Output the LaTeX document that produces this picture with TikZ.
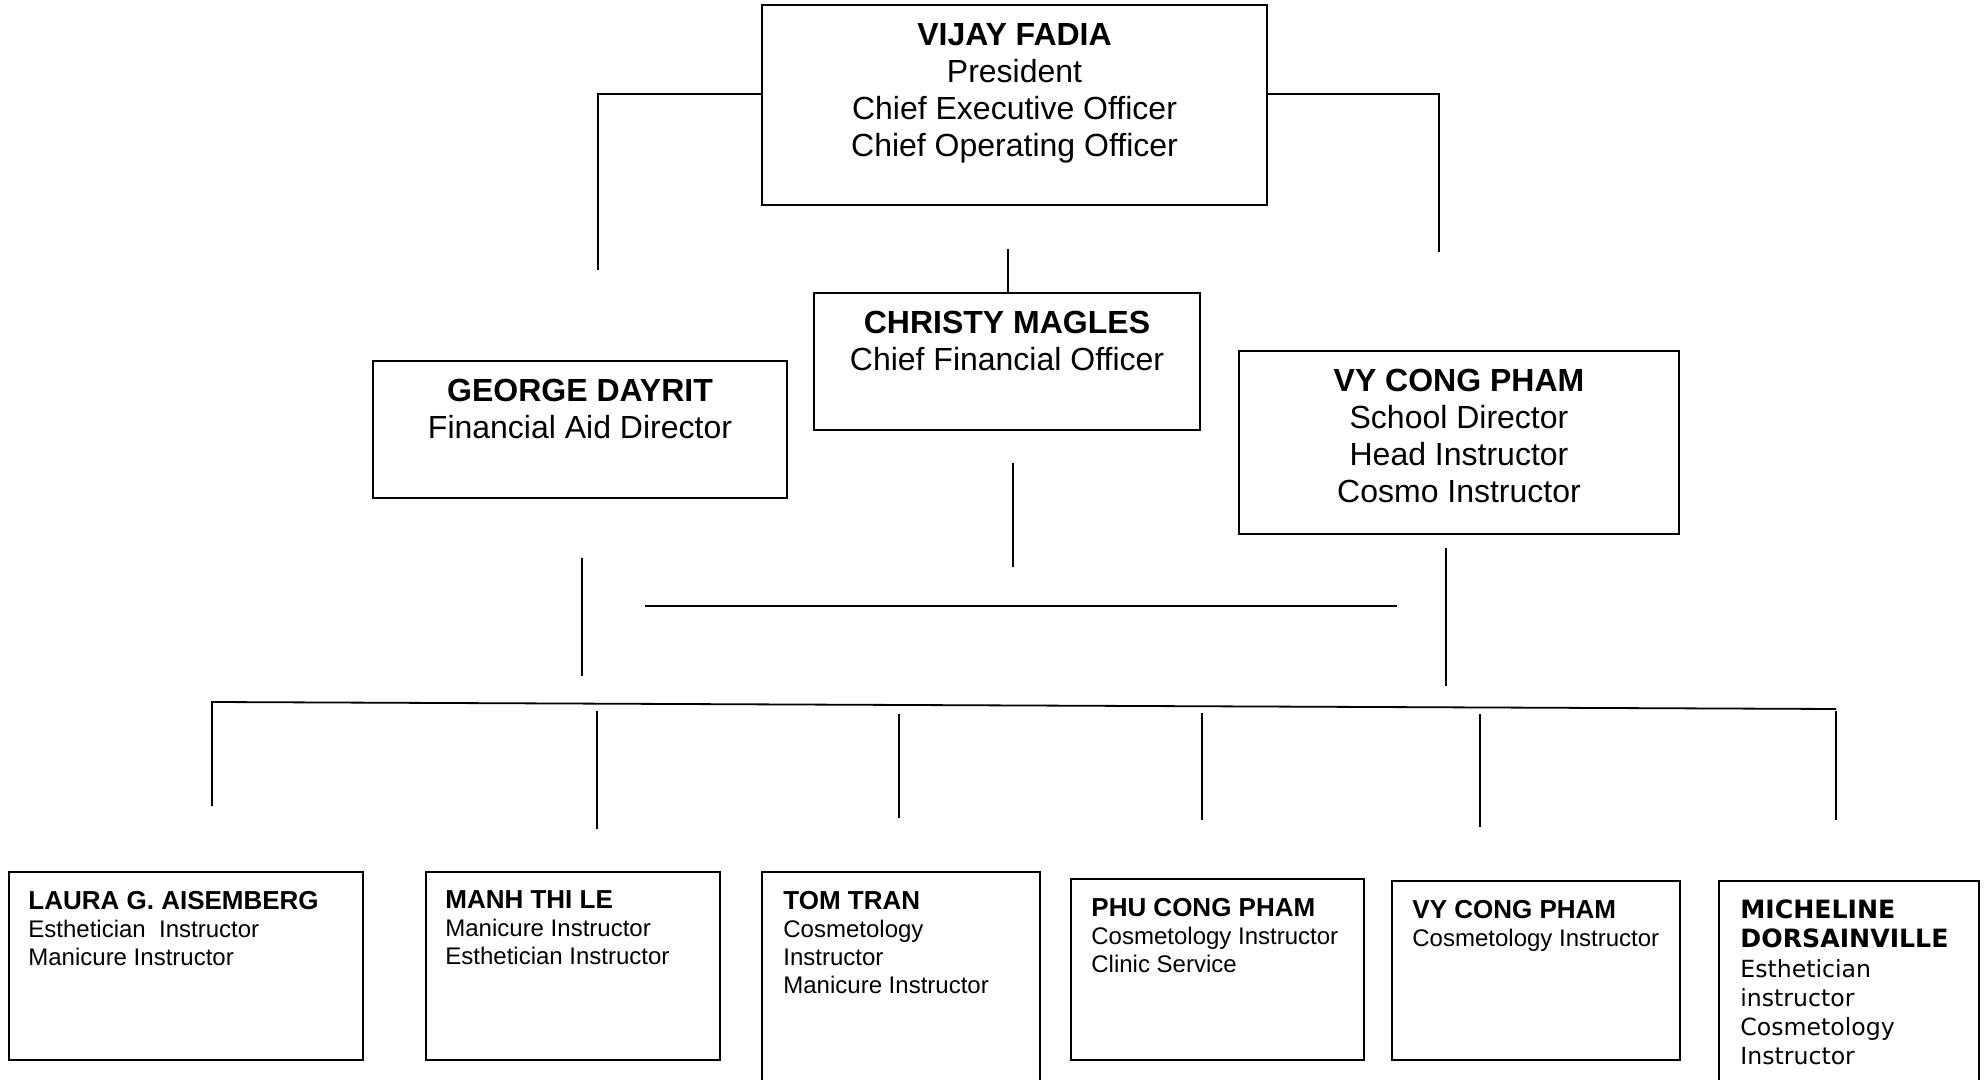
\documentclass[tikz,border=0pt]{standalone}
\usepackage{fontspec}
\setmainfont{Liberation Sans}
\newfontfamily\vfont{DejaVu Sans}
\tikzset{
  box/.style={draw, line width=1pt, minimum width=#1, inner sep=0pt},
  bigtxt/.style={anchor=north, align=center, inner sep=0pt, font=\fontsize{16}{18.5}\selectfont},
  smalltxt/.style={anchor=north west, align=left, inner sep=0pt, font=\fontsize{12}{14}\selectfont},
  ln/.style={line width=0.9pt}
}
\newcommand{\nm}[1]{{\bfseries #1}}
\newcommand{\snm}[1]{{\fontsize{13}{14}\selectfont\bfseries #1}}
\newcommand{\vnm}[1]{{\fontsize{12.6}{14.6}\selectfont\bfseries #1}}
\begin{document}
\begin{tikzpicture}[x=0.5pt,y=-0.5pt]
        \useasboundingbox (0,0) rectangle (1988,1080);
        % top tier
        \node[box=252.5pt, minimum height=100pt] at (1014.5,105) (P) {};
        \node[bigtxt] at ([yshift=-9.6pt]P.north) (Ptxt) {\nm{VIJAY FADIA}\\President\\Chief Executive Officer\\Chief Operating Officer};
        % middle tier
        \node[box=193pt, minimum height=68.5pt] at (1007,361.5) (CFO) {};
        \node[bigtxt] at ([yshift=-9.6pt]CFO.north) (CFOtxt) {\nm{CHRISTY MAGLES}\\Chief Financial Officer};
        \node[box=207pt, minimum height=68.5pt] at (580,429.5) (FAD) {};
        \node[bigtxt] at ([yshift=-9.6pt]FAD.north) (FADtxt) {\nm{GEORGE DAYRIT}\\Financial Aid Director};
        \node[box=220pt, minimum height=91.5pt] at (1459,442.5) (DIR) {};
        \node[bigtxt] at ([yshift=-9.6pt]DIR.north) (DIRtxt) {\nm{VY CONG PHAM}\\School Director\\Head Instructor\\Cosmo Instructor};
        % bottom tier
        \node[box=177pt, minimum height=94pt] at (186,966) (I1) {};
        \node[smalltxt] at ([xshift=10pt,yshift=-9.8pt]I1.north west) (I1txt) {\snm{LAURA G. AISEMBERG}\\Esthetician\ \ Instructor\\Manicure Instructor};
        \node[box=147pt, minimum height=94pt] at (573,966) (I2) {};
        \node[smalltxt] at ([xshift=10pt,yshift=-9.8pt]I2.north west) (I2txt) {\snm{MANH THI LE}\\Manicure Instructor\\Esthetician Instructor};
        \node[box=139pt, minimum height=111.5pt] at (901,983.5) (I3) {};
        \node[smalltxt] at ([xshift=11pt,yshift=-9.8pt]I3.north west) (I3txt) {\snm{TOM TRAN}\\Cosmetology\\Instructor\\Manicure Instructor};
        \node[box=146.5pt, minimum height=90.5pt] at (1217.5,969.5) (I4) {};
        \node[smalltxt] at ([xshift=10.5pt,yshift=-9.8pt]I4.north west) (I4txt) {\snm{PHU CONG PHAM}\\Cosmetology Instructor\\Clinic Service};
        \node[box=144pt, minimum height=89.5pt] at (1536,970.5) (I5) {};
        \node[smalltxt] at ([xshift=10.5pt,yshift=-9.8pt]I5.north west) (I5txt) {\snm{VY CONG PHAM}\\Cosmetology Instructor};
        \node[box=130pt, minimum height=107pt] at (1849,988) (I6) {};
        \node[smalltxt, font=\vfont\fontsize{11.8}{14.6}\selectfont] at ([xshift=11pt,yshift=-9.8pt]I6.north west) (I6txt) {\vnm{MICHELINE}\\\vnm{DORSAINVILLE}\\Esthetician\\instructor\\Cosmetology\\Instructor};
        % connectors
        \coordinate (tl) at (598,94);
        \coordinate (tlend) at (598,270);
        \coordinate (tr) at (1439,94);
        \coordinate (trend) at (1439,252);
        \coordinate (cfotop) at (1008,249);
        \draw[ln] (P.west |- tl) -- (tl) -- (tlend);
        \draw[ln] (P.east |- tr) -- (tr) -- (trend);
        \draw[ln] (cfotop) -- (CFO.north -| cfotop);
        \coordinate (g1) at (582,558);
        \coordinate (g2) at (582,676);
        \coordinate (c1) at (1013,463);
        \coordinate (c2) at (1013,567);
        \coordinate (h1) at (645,606);
        \coordinate (h2) at (1397,606);
        \coordinate (v1) at (1446,548);
        \coordinate (v2) at (1446,686);
        \draw[ln] (g1) -- (g2);
        \draw[ln] (c1) -- (c2);
        \draw[ln] (h1) -- (h2);
        \draw[ln] (v1) -- (v2);
        % bar to the instructors
        \coordinate (b1) at (212,702);
        \coordinate (b2) at (1836,709);
        \coordinate (d1) at (212,806);
        \draw[ln] (d1) -- (b1) -- (b2);
        \coordinate (d2a) at (597,711);  \coordinate (d2b) at (597,829);
        \coordinate (d3a) at (899,714);  \coordinate (d3b) at (899,818);
        \coordinate (d4a) at (1202,713); \coordinate (d4b) at (1202,820);
        \coordinate (d5a) at (1480,714); \coordinate (d5b) at (1480,827);
        \coordinate (d6a) at (1836,711); \coordinate (d6b) at (1836,820);
        \draw[ln] (d2a) -- (d2b);
        \draw[ln] (d3a) -- (d3b);
        \draw[ln] (d4a) -- (d4b);
        \draw[ln] (d5a) -- (d5b);
        \draw[ln] (d6a) -- (d6b);
      \end{tikzpicture}
\end{document}
